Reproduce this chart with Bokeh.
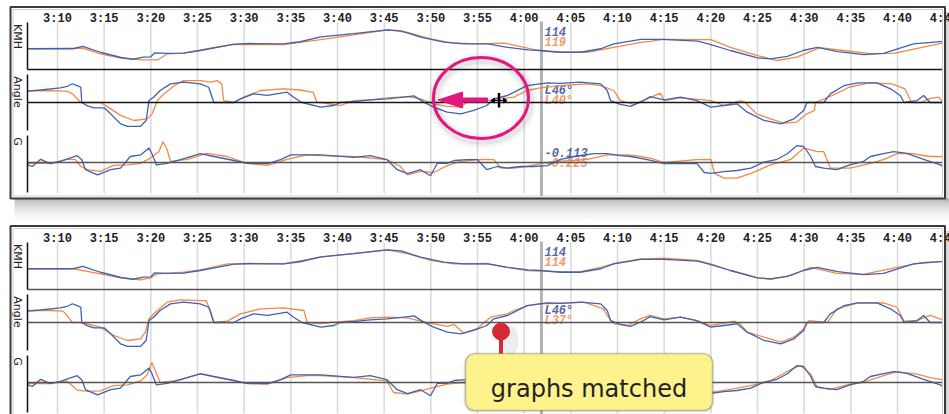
import numpy as np
from bokeh.plotting import figure
from bokeh.models import Range1d, BoxAnnotation, Label
from bokeh.core.properties import value
from bokeh.embed import file_html
from bokeh.resources import INLINE

# ---------------- data ----------------
tick_times = [190, 195, 200, 205, 210, 215, 220, 225, 230, 235,
              240, 245, 250, 255, 260, 265, 270, 275, 280, 285]
tick_labels = ["3:10", "3:15", "3:20", "3:25", "3:30", "3:35", "3:40", "3:45", "3:50", "3:55",
               "4:00", "4:05", "4:10", "4:15", "4:20", "4:25", "4:30", "4:35", "4:40", "4:45"]
cursor_time = 241.85

# blue lap (same in both panels)
blue_kmh_t = [186.8, 191.7, 192.7, 194.6, 196.8, 198.1, 199.2, 200.0, 200.4, 201.8,
              203.5, 205.3, 207.1, 208.9, 210.7, 214.2, 216.0, 218.2, 221.7, 225.4,
              226.8, 228.9, 231.4, 233.5, 236.1, 238.2, 240.4, 241.8, 243.9, 246.0,
              248.2, 249.6, 252.5, 254.9, 258.6, 260.0, 262.1, 265.0, 266.4, 268.2,
              269.9, 271.4, 273.6, 276.4, 278.5, 281.7, 284.9]
blue_kmh = [119, 119, 126, 109, 94, 89, 95, 96, 107, 106,
            106.5, 114, 123, 132, 134, 133, 139, 153, 162, 173,
            170, 152, 138, 133, 133, 123, 116, 114, 109, 109,
            119, 133, 146, 146, 141, 131, 114, 93, 90, 97,
            114, 123, 111, 102, 106, 133, 140]

blue_ang_t = [186.8, 188.2, 190.3, 191.0, 191.6, 192.1, 192.5, 192.6, 193.2, 193.9,
              195.0, 195.7, 196.75, 197.5, 198.9, 199.5, 199.8, 200.3, 201.0, 202.1,
              203.5, 205.3, 206.2, 206.75, 208.9, 209.6, 211.0, 212.5, 214.6, 215.3,
              216.2, 218.2, 219.6, 220.3, 221.75, 223.5, 225.3, 227.1, 228.2, 229.25,
              230.3, 231.75, 233.2, 234.6, 236.0, 236.75, 238.2, 240.3, 242.5, 243.9,
              246.0, 248.2, 248.9, 249.25, 250.3, 251.4, 252.8, 253.5, 255.0, 256.75,
              258.5, 260.0, 261.4, 262.8, 263.9, 265.7, 267.5, 268.9, 269.95, 270.3,
              272.1, 272.8, 274.25, 275.7, 277.8, 279.25, 280.3, 280.7, 282.1, 282.8,
              283.5, 284.96]
blue_ang = [29, 32, 37.5, 41, 48, 43, 39, 0, -8.5, -13.6,
            -13.6, -29, -54.5, -61, -61, -46, 5, 13.6, 30.7, 47.7,
            52, 47.7, 39, 0, 0, 9.4, 22, 18, 26.4, 13.6,
            0, -12, -7.7, 0, 2.5, 6.8, 9.4, 13.6, 17, 1,
            -12, -24.7, -29, -20.4, -7.7, 9.4, 17.9, 43, 50, 49,
            52, 47.7, 30.7, 5, -5, -10, 5, 15, 6.8, 13.6,
            5, -12, -7.7, -3.4, -24.7, -46, -54.5, -41.7, -20.4, 0,
            0, 22, 43, 50, 50, 35, 18, 0, 5, 18,
            0, 0]

blue_g_t = [186.8, 187.3, 188.2, 189.2, 190.3, 192.1, 192.6, 193.0, 193.9, 194.3,
            195.7, 196.75, 197.8, 198.9, 199.8, 200.1, 200.6, 201.75, 203.2, 205.3,
            206.75, 208.9, 210.3, 212.5, 213.9, 215.0, 216.75, 218.2, 221.75, 223.5,
            225.3, 226.4, 227.5, 228.9, 229.96, 230.7, 231.75, 232.5, 233.9, 235.0,
            236.0, 237.1, 238.2, 239.6, 241.0, 242.5, 243.9, 245.4, 247.5, 248.9,
            250.3, 251.4, 253.2, 255.0, 256.75, 258.5, 259.3, 260.0, 261.4, 262.8,
            264.3, 265.7, 267.1, 268.2, 269.2, 269.95, 270.7, 271.2, 272.1, 273.5,
            274.9, 276.3, 277.1, 278.5, 279.6, 281.0, 282.8, 284.6, 285.1]
blue_g = [-0.06, -0.10, 0.08, -0.03, 0.03, 0.17, 0.07, -0.18, -0.27, -0.31,
          -0.18, -0.14, 0.15, 0.19, 0.36, 0.23, -0.06, -0.02, 0.07, 0.22,
          0.15, 0.05, -0.02, -0.03, 0.07, 0.19, 0.19, 0.19, 0.13, 0.17,
          0.07, -0.18, -0.28, -0.18, -0.33, -0.02, -0.02, 0.05, 0.07, 0.07,
          -0.18, -0.10, -0.14, -0.10, -0.10, -0.08, 0.08, 0.15, 0.22, 0.22,
          0.17, 0.15, 0.07, -0.03, -0.03, -0.02, -0.25, -0.27, -0.23, -0.20,
          -0.14, 0.01, 0.08, 0.22, 0.42, 0.40, 0.15, -0.10, -0.14, -0.18,
          -0.06, 0.02, 0.15, 0.22, 0.27, 0.23, 0.08, -0.06, -0.14]

# orange lap, unmatched (top panel)
orange_kmh_t = [186.8, 192.7, 194.6, 196.8, 198.9, 200.7, 201.8, 203.5, 207.1, 208.9,
                214.2, 218.2, 225.4, 227.5, 230.0, 232.2, 235.0, 237.9, 240.0, 241.8,
                243.9, 246.8, 249.6, 252.5, 253.5, 254.9, 260.0, 262.1, 265.0, 267.1,
                269.2, 271.7, 274.2, 277.1, 279.6, 284.9]
orange_kmh = [119, 121, 104.6, 92, 87, 87, 104.6, 106.5, 124, 131,
              131, 145, 173, 166, 147, 136, 133, 135, 123, 112,
              109, 109, 123, 137, 140, 146, 145, 123, 99.7, 85.4,
              95, 122, 114, 105, 106, 136]

orange_ang_t = [186.8, 188.2, 191.0, 191.6, 192.5, 194.6, 195.3, 196.75, 198.2, 199.6,
                200.14, 200.7, 201.4, 202.5, 203.5, 205.3, 206.4, 207.1, 207.6, 207.8,
                208.9, 209.96, 211.75, 214.2, 216.0, 217.4, 217.8, 218.2, 220.3, 221.75,
                223.5, 225.3, 227.5, 228.9, 230.3, 231.75, 233.2, 233.9, 236.0, 237.5,
                238.9, 240.3, 241.75, 243.9, 246.8, 248.2, 249.6, 250.3, 251.75, 253.2,
                254.6, 255.0, 256.75, 258.5, 260.0, 261.4, 263.2, 263.7, 264.9, 266.4,
                267.8, 269.2, 270.3, 271.1, 271.2, 273.4, 274.8, 276.9, 279.4, 280.8,
                281.5, 282.6, 283.3, 284.4, 284.9]
orange_ang = [29, 30.7, 29, 22, 0, 0, -10, -33, -46, -41.7,
              -29, 5, 22, 43, 56, 56, 52, 56, 47.7, 5,
              0, 13.6, 30.7, 35, 32, 26, 0, 0, -7.7, 5,
              6.8, 12, 15, 9.4, -3.4, -10, -12, 2, 5, 9.4,
              13.6, 30.7, 37.5, 43, 47.7, 43, 30.7, 5, -5, 9.4,
              24, 5, 12, 8.5, 5, -7.7, 5, 0, -29, -41.7,
              -53, -50, -29, -20.4, 0, 22, 39, 50, 47.7, 35,
              0, 0, 9.4, 13.6, 0]

orange_g_t = [186.8, 189.2, 191.0, 191.9, 192.5, 193.2, 194.6, 196.0, 197.5, 198.9,
              199.96, 200.85, 201.3, 201.75, 202.1, 203.9, 206.0, 208.2, 210.3, 212.5,
              214.6, 216.75, 218.2, 221.75, 225.3, 226.75, 227.5, 228.9, 230.3, 231.75,
              233.2, 235.3, 236.75, 237.5, 238.9, 240.3, 241.75, 243.2, 245.4, 246.8,
              248.9, 251.1, 252.5, 253.5, 255.0, 258.5, 260.0, 260.4, 261.4, 262.8,
              264.3, 266.4, 268.6, 269.95, 271.4, 272.1, 272.8, 274.9, 277.1, 278.5,
              279.96, 281.4, 283.5, 285.1]
orange_g = [-0.02, -0.02, 0.08, 0.08, -0.10, -0.18, -0.22, -0.07, -0.06, -0.02,
            0.11, 0.27, 0.52, 0.32, 0.03, 0.08, 0.23, 0.15, -0.02, -0.07,
            0.08, 0.19, 0.17, 0.15, 0.07, -0.10, -0.31, -0.22, -0.25, -0.08,
            0.03, 0.08, 0.07, -0.14, -0.14, -0.10, -0.03, 0.03, 0.05, 0.08,
            0.19, 0.19, 0.15, 0.11, 0.0, 0.07, 0.08, -0.27, -0.39, -0.39,
            -0.27, -0.06, 0.08, 0.36, 0.27, 0.27, -0.14, -0.14, -0.02, 0.07,
            0.22, 0.23, 0.15, 0.15]

# orange lap, matched (bottom panel)
matched_kmh_t = [186.8, 191.7, 194.6, 196.75, 198.9, 199.96, 200.7, 203.5, 205.3, 208.2,
                 214.2, 218.2, 225.3, 227.5, 229.96, 232.5, 236.0, 238.2, 240.3, 243.2,
                 246.0, 248.2, 249.6, 252.5, 255.0, 258.5, 260.0, 262.1, 265.0, 266.4,
                 268.6, 270.7, 273.5, 276.3, 279.96, 282.8, 285.1]
matched_kmh = [119, 119, 104.6, 93, 87.4, 93, 104.6, 109, 116, 133,
               133, 152, 173, 162, 143, 133, 134, 123, 114, 111,
               111, 123, 134, 147, 149, 143, 133, 114, 93, 89,
               100, 123, 106, 103, 123, 137, 140]

matched_ang_t = [186.8, 189.2, 190.6, 191.0, 191.6, 192.5, 194.6, 196.0, 197.5, 198.9,
                 199.4, 199.8, 200.7, 201.75, 203.2, 205.3, 205.9, 206.4, 206.75, 208.2,
                 209.6, 211.75, 214.2, 216.4, 216.75, 218.2, 219.2, 221.75, 223.5, 225.3,
                 227.5, 228.9, 230.3, 231.75, 232.5, 233.5, 235.0, 236.4, 238.2, 238.9,
                 240.4, 241.75, 245.3, 246.4, 248.5, 248.9, 249.6, 251.1, 252.5, 253.5,
                 255.0, 256.75, 258.5, 260.0, 261.4, 262.5, 263.2, 263.9, 265.7, 267.5,
                 268.9, 269.95, 270.5, 272.5, 273.5, 275.7, 278.5, 279.96, 280.7, 282.1,
                 283.5, 285.1]
matched_ang = [30.7, 30.7, 29, 18, 0, 0, -12, -33, -46, -41.7,
               -24.7, 9.4, 30.7, 52, 58, 56, 56, 30.7, 0, 3.4,
               22, 35, 37.5, 30.7, 0, -3.4, 0, 5, 12, 13.6,
               12, 3.4, -3.4, -10, -5, -27, -15, 13.6, 22, 30.7,
               43, 48, 50, 52, 35, 18, -3, -7.7, 10, 18,
               9.4, 13.6, 5, -7.7, -1.7, 3.4, -5, -24.7, -37.5, -50,
               -37.5, -16, 5, 0, 35, 49.4, 50, 39, 3.4, 5,
               18, 5]

matched_g_t = [186.8, 189.2, 191.0, 191.6, 192.1, 193.2, 194.6, 196.0, 197.5, 198.9,
               199.6, 200.1, 200.7, 201.0, 202.5, 205.3, 208.2, 210.3, 212.5, 214.6,
               216.75, 218.2, 221.75, 225.3, 226.0, 227.5, 228.9, 230.3, 231.75, 233.5,
               236.0, 239.6, 243.2, 247.5, 250.3, 254.0, 258.5, 260.0, 262.1, 264.3,
               266.4, 268.6, 269.6, 270.7, 271.4, 272.8, 274.9, 276.3, 278.5, 279.96,
               282.1, 283.5, 285.1]
matched_g = [-0.03, -0.03, 0.04, -0.08, -0.19, -0.22, -0.21, -0.08, -0.06, 0.04,
             0.19, 0.50, 0.17, 0.0, 0.04, 0.21, 0.08, -0.03, -0.04, 0.12,
             0.17, 0.17, 0.12, 0.04, -0.25, -0.29, -0.21, -0.12, -0.04, 0.0,
             -0.10, -0.05, 0.08, 0.20, 0.15, 0.05, 0.0, -0.25, -0.17, -0.08,
             0.04, 0.33, 0.42, 0.21, -0.12, -0.17, -0.04, 0.0, 0.17, 0.27,
             0.21, 0.12, 0.06]

top_readout = ["114", "119", "L46°", "L40°", "-0.113", "-0.225"]
bottom_readout = ["114", "114", "L46°", "L37°"]
callout_text = "graphs matched"

# ---------------- layout (screen pixels of the reference) ----------------
FIG_W, FIG_H = 949, 414
SX0, SY0 = 0, 0
SX1, SY1 = SX0 + FIG_W, SY0 + FIG_H
PX_PER_MIN = 840 / 90.0
X_FIRST_TICK = 57.0
PANEL_DY = [0, 220]
FRAME_L, FRAME_R = 10, 944.5
FRAMES = [(6.5, 198), (225.5, 440)]

BLUE = "#3f62b5"
ORANGE = "#f28a45"
BLUE_TXT = "#5566aa"
ORANGE_TXT = "#f39a6b"


def t_of_px(x):
    return tick_times[0] + (x - X_FIRST_TICK) / PX_PER_MIN


def band(ref_px, ref_val, ppu):
    return Range1d(start=ref_val + (ref_px - SY1) / ppu, end=ref_val + (ref_px - SY0) / ppu)


p = figure(width=FIG_W, height=FIG_H, output_backend="svg", toolbar_location=None,
           x_range=Range1d(SX0, SX1), y_range=Range1d(SY1, SY0),
           x_axis_type=None, y_axis_type=None, min_border=0)
p.outline_line_color = None
p.background_fill_color = "white"
p.border_fill_color = "white"
p.extra_x_ranges = {"time": Range1d(t_of_px(SX0), t_of_px(SX1))}

ranges = {}
for i, dy in enumerate(PANEL_DY):
    ranges[f"kmh{i}"] = band(50 + dy, 114, 0.35)
    ranges[f"ang{i}"] = band(102 + dy, 0, 0.391)
    ranges[f"g{i}"] = band(162 + dy, 0, 40)
p.extra_y_ranges = ranges

# ---- drop shadows (below upper panel, right of both panels) ----
n = 12
p.quad(left=[14] * n, right=[949] * n,
       top=[198 + 2 * k for k in range(n)], bottom=[200 + 2 * k for k in range(n)],
       fill_color="black", fill_alpha=[0.26 * (1 - k / n) ** 1.7 for k in range(n)],
       line_color=None)
for top, bot in FRAMES:
    m = 5
    p.quad(left=[FRAME_R + 0.5 + k for k in range(m)], right=[FRAME_R + 1.5 + k for k in range(m)],
           top=[top + 5] * m, bottom=[min(bot + 2, SY1)] * m,
           fill_color="black", fill_alpha=[0.22 * (1 - k / m) for k in range(m)], line_color=None)

# ---- panel backgrounds ----
for top, bot in FRAMES:
    p.quad(left=[FRAME_L], right=[FRAME_R], top=[top], bottom=[bot], fill_color="white",
           line_color=None)

for i, dy in enumerate(PANEL_DY):
    base_col = "#161616" if i == 0 else "#555555"
    # vertical grid
    p.segment(x0=tick_times, x1=tick_times, y0=[22 + dy] * len(tick_times),
              y1=[193 + dy] * len(tick_times), x_range_name="time",
              line_color="#d9d9d9", line_width=1.5)
    # cursor
    p.segment(x0=[cursor_time], x1=[cursor_time], y0=[21 + dy], y1=[196 + dy],
              x_range_name="time", line_color="#b3b3b3", line_width=3)
    # readouts
    labels = top_readout if i == 0 else bottom_readout
    ys = [30.5, 40.5, 90, 100, 152, 162][:len(labels)]
    cols = [BLUE_TXT, ORANGE_TXT] * 3
    p.text(x=[cursor_time] * len(labels), y=[v + dy for v in ys], text=labels,
           x_range_name="time", x_offset=3, text_align="left", text_baseline="middle",
           text_font=value("Liberation Mono"), text_font_style="bold italic",
           text_font_size="12px", text_color=cols[:len(labels)])

    # data lines
    if i == 0:
        okmh, oang, og = (orange_kmh_t, orange_kmh), (orange_ang_t, orange_ang), (orange_g_t, orange_g)
    else:
        okmh, oang, og = (matched_kmh_t, matched_kmh), (matched_ang_t, matched_ang), (matched_g_t, matched_g)
    for (tt, vv), rn in [(okmh, f"kmh{i}"), (oang, f"ang{i}"), (og, f"g{i}")]:
        p.line(x=tt, y=vv, x_range_name="time", y_range_name=rn,
               line_color=ORANGE, line_width=1.3)
    for (tt, vv), rn in [((blue_kmh_t, blue_kmh), f"kmh{i}"), ((blue_ang_t, blue_ang), f"ang{i}"),
                         ((blue_g_t, blue_g), f"g{i}")]:
        p.line(x=tt, y=vv, x_range_name="time", y_range_name=rn,
               line_color=BLUE, line_width=1.3)

    # base / zero lines
    p.segment(x0=[27] * 3, x1=[943] * 3, y0=[69 + dy, 102 + dy, 162 + dy],
              y1=[69 + dy, 102 + dy, 162 + dy],
              line_color=[base_col, base_col, "#555555"], line_width=1.6)
    # left axis lines
    p.segment(x0=[27] * 3, x1=[27] * 3, y0=[22 + dy, 74 + dy, 135 + dy],
              y1=[69 + dy, 130 + dy, 192 + dy], line_color="#111111", line_width=1.5)
    # axis names
    p.text(x=[17] * 3, y=[36 + dy, 91.5 + dy, 141 + dy], text=["KMH", "Angle", "G"],
           angle=-np.pi / 2, text_align="center", text_baseline="middle",
           text_font=value("DejaVu Sans"), text_font_size="11px", text_color="#222222")
    # tick labels
    p.text(x=tick_times, y=[18.5 + dy] * len(tick_times), text=tick_labels,
           x_range_name="time", text_align="center", text_baseline="middle",
           text_font=value("Liberation Mono"), text_font_style="bold",
           text_font_size="12px", text_color="#222222")

# ---- frame borders drawn over content (they clip the last tick label) ----
for top, bot in FRAMES:
    p.quad(left=[FRAME_R - 2.5], right=[FRAME_R], top=[top], bottom=[bot], fill_color="white",
           line_color=None)
    p.quad(left=[FRAME_L], right=[FRAME_R], top=[top], bottom=[bot], fill_color=None,
           line_color="#3a3a3a", line_width=2)
    p.quad(left=[FRAME_L + 2.5], right=[FRAME_R - 2.5], top=[top + 2.5], bottom=[bot - 2.5],
           fill_color=None, line_color="#cfcfcf", line_width=1)

# ---- magenta circle + arrow ----
for w_, a_ in [(14, 0.04), (8, 0.06)]:
    p.ellipse(x=[482], y=[100], width=[95], height=[81], fill_color=None,
              line_color="black", line_alpha=a_, line_width=w_)
p.ellipse(x=[480.5], y=[97.5], width=[95], height=[81], fill_color=None,
          line_color="#e3177d", line_width=3)
p.patch(x=[437.5, 462, 462, 487, 487, 462, 462],
        y=[99.5, 91.5, 97.5, 97.5, 101.5, 101.5, 107.5],
        fill_color="#e3177d", line_color="#e3177d", line_width=1)
# cursor glyph
p.segment(x0=[498.5], x1=[498.5], y0=[92.5], y1=[107], line_color="black", line_width=2.5)
p.segment(x0=[491.5], x1=[505.5], y0=[100], y1=[100], line_color="black", line_width=1.2)
p.patch(x=[490.5, 494, 494], y=[100, 97.5, 102.5], fill_color="black", line_color="black")
p.patch(x=[506.5, 503, 503], y=[100, 97.5, 102.5], fill_color="black", line_color="black")

# ---- pin + callout ----
p.ellipse(x=[510], y=[340], width=[16], height=[30], fill_color="black", fill_alpha=0.07,
          line_color=None)
p.segment(x0=[500.5], x1=[500.5], y0=[331], y1=[356], line_color="#d42a35", line_width=4)
p.scatter(x=[500.5], y=[331], size=17, fill_color="#d42a35", line_color="#d42a35")

p.add_layout(BoxAnnotation(left=463, right=714, top=355, bottom=412, fill_color="black",
                           fill_alpha=0.08, line_color=None, border_radius=10))
p.add_layout(BoxAnnotation(left=465, right=712, top=353, bottom=410, fill_color="#fdf28c",
                           fill_alpha=1.0, line_color="#3a3a3a", line_width=1.5,
                           border_radius=9))
p.add_layout(Label(x=588.5, y=388, text=callout_text, text_align="center",
                   text_baseline="alphabetic", text_font="DejaVu Sans",
                   text_font_size="24px", text_color="#222222"))

open("out.html", "w").write(file_html(p, INLINE))
